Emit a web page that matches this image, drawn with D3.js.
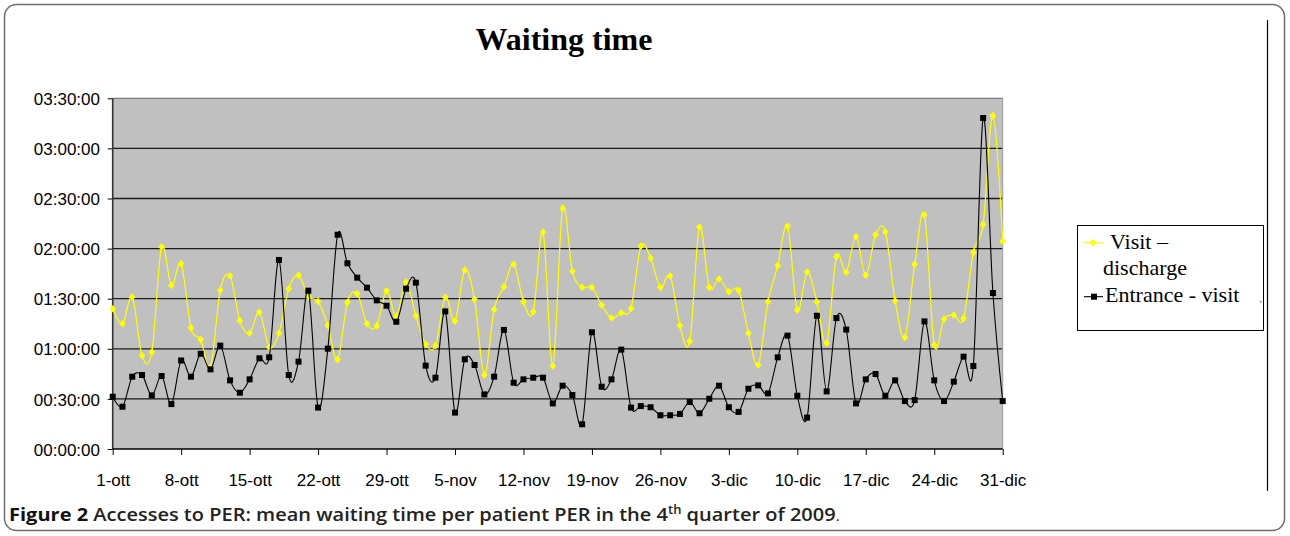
<!DOCTYPE html>
<html>
<head>
<meta charset="utf-8">
<script src="https://cdn.jsdelivr.net/npm/d3@7"></script>
<style>
  html, body { margin: 0; padding: 0; background: #fff; }
  svg { display: block; }
</style>
</head>
<body>
<svg id="chart" width="1290" height="536"></svg>
<script>
// ---- Data (minutes) ----
const tickLabels = ["1-ott","8-ott","15-ott","22-ott","29-ott","5-nov","12-nov","19-nov","26-nov","3-dic","10-dic","17-dic","24-dic","31-dic"];
const seriesNames = ["Visit \u2013", "discharge", "Entrance - visit"];

// Visit – discharge (yellow), one value per day, 1 Oct – 31 Dec 2009, minutes
const visitDischarge = [
  84, 75, 91, 56, 58, 121, 98, 111, 72.5, 65.5, 49, 95, 103.6, 77, 69.3, 82,
  61, 69.3, 96, 104, 91.2, 88.4, 74, 53.5, 87.8, 93, 75, 73.7, 94.8, 79.4, 100,
  79.6, 62.7, 61.9, 90.8, 76.6, 107.2, 89.6, 44.3, 83.6, 97.2, 110.6, 88.2, 82.2, 129.9, 49.7,
  144.1, 106.4, 96.8, 96.8, 86.2, 78.4, 81.6, 84.2, 121.4, 114.4, 96.8, 103.6, 73.9, 64.5, 132.9, 96.8,
  101.8, 94.2, 95, 69.3, 50.3, 88.2, 109.8, 133.5, 83.2, 106, 88.2, 63.3, 115.2, 105.8, 127.1,
  104, 128.3, 130.1, 88.8, 66.7, 110.6, 140.1, 62.3, 77.8, 80.2, 78.2, 117.8, 134.5, 199.6, 124.4
];

// Entrance - visit (black), minutes
const entranceVisit = [
  31.3, 25.3, 43.3, 44.3, 32.1, 43.7, 26.9, 53, 43.3, 57, 47.7, 61.9, 41.1, 33.7, 41.7, 54.3,
  54.9, 113.2, 44.3, 52.3, 94.8, 24.8, 60.1, 128.3, 111.2, 102.6, 96.6, 89, 85.8, 76.2, 96,
  99.6, 49.9, 42.7, 82.4, 21.8, 53.7, 50.3, 32.7, 43.3, 71.3, 39.7, 41.7, 42.7, 42.7, 27.3,
  37.9, 32.3, 14.8, 69.9, 37.3, 41.7, 59.5, 24.8, 25.7, 25, 20.2, 20.2, 21, 28.1, 21.4, 30.1,
  37.9, 25, 22.2, 36.1, 38.1, 33.3, 54.9, 67.9, 31.9, 18.8, 79.8, 34.5, 78.4, 71.5, 27.3,
  41.7, 44.9, 31.9, 41.1, 28.7, 29.3, 76.4, 41.1, 28.7, 40.3, 55.3, 49.7, 198.2, 93.4, 28.7
];

const yTicks = [0, 30, 60, 90, 120, 150, 180, 210];

// ---- Layout ----
const svg = d3.select("#chart");
const L = 112.7, R = 1002.7, T = 98.3, B = 449;

const x = d3.scaleLinear().domain([0, visitDischarge.length - 1]).range([L, R]);
const y = d3.scaleLinear().domain([0, 210]).range([B, T]);

// outer rounded frame
svg.append("rect").attr("x", 4.5).attr("y", 4.5).attr("width", 1280).attr("height", 526)
  .attr("rx", 12).attr("fill", "#fff").attr("stroke", "#6e6e6e").attr("stroke-width", 1.5);

// right vertical line of the embedded chart
svg.append("line").attr("x1", 1267.5).attr("x2", 1267.5).attr("y1", 20).attr("y2", 491)
  .attr("stroke", "#000").attr("stroke-width", 1.2);

// title
svg.append("text").attr("x", 564).attr("y", 50).attr("text-anchor", "middle")
  .attr("font-family", "'Liberation Serif','Times New Roman',serif").attr("font-weight", "bold")
  .attr("font-size", 32).attr("fill", "#000").text("Waiting time");

// plot background
svg.append("rect").attr("x", L).attr("y", T).attr("width", R - L).attr("height", B - T)
  .attr("fill", "#c0c0c0");

// gridlines
svg.append("g").selectAll("line").data(yTicks.filter(v => v > 0)).join("line")
  .attr("x1", L).attr("x2", R).attr("y1", d => y(d)).attr("y2", d => y(d))
  .attr("stroke", d => d === 210 ? "#7a7a7a" : "#1a1a1a").attr("stroke-width", 1.3);

// plot frame right edge
svg.append("line").attr("x1", R).attr("x2", R).attr("y1", T).attr("y2", B)
  .attr("stroke", "#9a9a9a").attr("stroke-width", 1);

const fmt = m => {
  const h = Math.floor(m / 60), mm = Math.round(m % 60);
  return String(h).padStart(2, "0") + ":" + String(mm).padStart(2, "0") + ":00";
};

// y axis
const yAxis = svg.append("g").attr("transform", `translate(${L},0)`)
  .call(d3.axisLeft(y).tickValues(yTicks).tickSize(5).tickPadding(7.7).tickFormat(fmt));
yAxis.select(".domain").remove();
yAxis.selectAll("line").attr("stroke", "#000");
yAxis.selectAll("text").attr("font-family", "'Liberation Sans',Arial,sans-serif")
  .attr("font-size", 17).attr("fill", "#000").attr("dy", "0.36em");

// x axis
const xAxis = svg.append("g").attr("transform", `translate(0,${B})`)
  .call(d3.axisBottom(x).tickValues(d3.range(0, 92, 7)).tickSize(6).tickPadding(19.4)
    .tickFormat((d, i) => tickLabels[i]));
xAxis.select(".domain").remove();
xAxis.selectAll("line").attr("stroke", "#000");
xAxis.selectAll("text").attr("font-family", "'Liberation Sans',Arial,sans-serif")
  .attr("font-size", 17).attr("fill", "#000");

// axis lines
svg.append("line").attr("x1", L).attr("x2", L).attr("y1", T).attr("y2", B)
  .attr("stroke", "#333").attr("stroke-width", 1.6);
svg.append("line").attr("x1", L).attr("x2", R).attr("y1", B).attr("y2", B)
  .attr("stroke", "#000").attr("stroke-width", 1.4);

// lines
const line = d3.line().x((d, i) => x(i)).y(d => y(d)).curve(d3.curveCardinal.tension(0));

svg.append("path").datum(visitDischarge).attr("d", line)
  .attr("fill", "none").attr("stroke", "#ffff00").attr("stroke-width", 1.2);
svg.append("g").selectAll("path").data(visitDischarge).join("path")
  .attr("d", "M0,-3.8L3.3,0L0,3.8L-3.3,0Z")
  .attr("transform", (d, i) => `translate(${x(i)},${y(d)})`)
  .attr("fill", "#ffff00");

svg.append("path").datum(entranceVisit).attr("d", line)
  .attr("fill", "none").attr("stroke", "#000").attr("stroke-width", 1.1);
svg.append("g").selectAll("rect").data(entranceVisit).join("rect")
  .attr("x", (d, i) => x(i) - 3).attr("y", d => y(d) - 3)
  .attr("width", 6).attr("height", 6).attr("fill", "#000");

// legend
const lg = svg.append("g");
lg.append("rect").attr("x", 1077.5).attr("y", 225.5).attr("width", 186).attr("height", 105)
  .attr("fill", "#fff").attr("stroke", "#000").attr("stroke-width", 1);
lg.append("line").attr("x1", 1083).attr("x2", 1103).attr("y1", 242.7).attr("y2", 242.7)
  .attr("stroke", "#ffff00").attr("stroke-width", 1.2);
lg.append("path").attr("d", "M0,-3.8L3.3,0L0,3.8L-3.3,0Z")
  .attr("transform", "translate(1093,242.7)").attr("fill", "#ffff00");
lg.append("line").attr("x1", 1084).attr("x2", 1103).attr("y1", 296.7).attr("y2", 296.7)
  .attr("stroke", "#000").attr("stroke-width", 1.1);
lg.append("rect").attr("x", 1091).attr("y", 293.7).attr("width", 6).attr("height", 6).attr("fill", "#000");
const lgFont = "'Liberation Serif','Times New Roman',serif";
lg.append("text").attr("x", 1110).attr("y", 249).attr("font-family", lgFont).attr("font-size", 22).text(seriesNames[0]);
lg.append("text").attr("x", 1103).attr("y", 275).attr("font-family", lgFont).attr("font-size", 22).text(seriesNames[1]);
lg.append("text").attr("x", 1105).attr("y", 302).attr("font-family", lgFont).attr("font-size", 22).text(seriesNames[2]);
lg.append("circle").attr("cx", 1260.7).attr("cy", 301.7).attr("r", 0.8).attr("fill", "#555");

// caption
const cap = svg.append("text").attr("x", 9).attr("y", 521)
  .attr("font-family", "'Open Sans','Noto Sans',sans-serif").attr("font-size", 18.5)
  .attr("font-weight", 600).attr("fill", "#222");
cap.append("tspan").attr("font-weight", "bold").attr("fill", "#111").text("Figure 2");
cap.append("tspan").text(" Accesses to PER: mean waiting time per patient PER in the 4");
cap.append("tspan").attr("font-size", 12).attr("dy", -7).text("th");
cap.append("tspan").attr("dy", 7).text(" quarter of 2009");
cap.append("tspan").attr("font-weight", 400).attr("font-size", 14).text(".");
const w = cap.node().getComputedTextLength();
if (w > 0) cap.attr("transform", `translate(9,0) scale(${831 / w},1) translate(-9,0)`);
</script>
</body>
</html>
